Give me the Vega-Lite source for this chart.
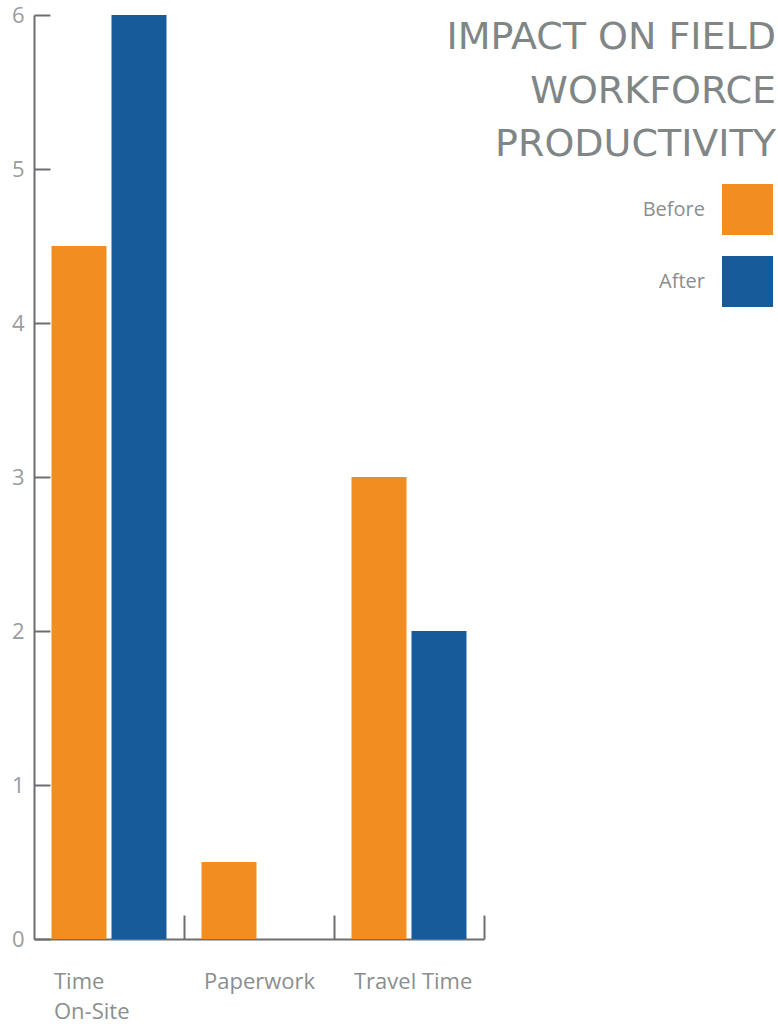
{
  "$schema": "https://vega.github.io/schema/vega-lite/v6.json",
  "width": 450,
  "height": 924,
  "autosize": {"type": "none"},
  "padding": {"left": 34, "top": 15, "right": 294, "bottom": 85},
  "background": "white",
  "title": {
    "text": ["IMPACT ON FIELD", "WORKFORCE", "PRODUCTIVITY"],
    "anchor": "end",
    "frame": "group",
    "dx": 292,
    "offset": -160,
    "fontSize": 38,
    "font": "DejaVu Sans",
    "fontWeight": "normal",
    "color": "#808686",
    "lineHeight": 53.5,
    "align": "right"
  },
  "data": {
    "values": [
      {"category": "Time On-Site", "period": "Before", "value": 4.5},
      {"category": "Time On-Site", "period": "After", "value": 6},
      {"category": "Paperwork", "period": "Before", "value": 0.5},
      {"category": "Paperwork", "period": "After", "value": 0},
      {"category": "Travel Time", "period": "Before", "value": 3},
      {"category": "Travel Time", "period": "After", "value": 2}
    ]
  },
  "mark": {"type": "bar"},
  "encoding": {
    "x": {
      "field": "category",
      "type": "nominal",
      "sort": ["Time On-Site", "Paperwork", "Travel Time"],
      "scale": {"paddingInner": 0, "paddingOuter": 0},
      "axis": {
        "title": null,
        "bandPosition": 1,
        "tickSize": -24,
        "tickWidth": 2,
        "tickColor": "#6d6e71",
        "domainColor": "#6d6e71",
        "domainWidth": 2,
        "labelAngle": 0,
        "labelAlign": "left",
        "labelOffset": -55,
        "labelPadding": 56,
        "labelBaseline": "top",
        "labelFontSize": 22,
        "labelFont": "Open Sans",
        "labelColor": "#8a8e8e",
        "labelOverlap": false,
        "labelExpr": "datum.label == 'Time On-Site' ? ['Time', 'On-Site'] : datum.label",
        "labelLineHeight": 30
      }
    },
    "xOffset": {
      "field": "period",
      "sort": ["Before", "After"],
      "scale": {"paddingInner": 0.0833, "paddingOuter": 0.2917}
    },
    "y": {
      "field": "value",
      "type": "quantitative",
      "scale": {"domain": [0, 6], "nice": false},
      "axis": {
        "title": null,
        "values": [0, 1, 2, 3, 4, 5, 6],
        "format": "d",
        "grid": false,
        "tickSize": -16,
        "tickWidth": 2,
        "tickColor": "#6d6e71",
        "domainColor": "#6d6e71",
        "domainWidth": 2,
        "labelPadding": 26,
        "labelFontSize": 22,
        "labelFont": "Open Sans",
        "labelColor": "#9a9c9f"
      }
    },
    "color": {
      "field": "period",
      "type": "nominal",
      "sort": ["Before", "After"],
      "scale": {"domain": ["Before", "After"], "range": ["#F18D21", "#175B9B"]},
      "legend": {
        "orient": "none",
        "legendX": 688,
        "legendY": 169,
        "title": null,
        "padding": 0,
        "symbolType": "square",
        "symbolSize": 2601,
        "symbolStrokeWidth": 0,
        "labelAlign": "right",
        "labelOffset": -68,
        "labelFontSize": 20,
        "labelFont": "Open Sans",
        "labelColor": "#8a8e8e",
        "labelBaseline": "middle",
        "rowPadding": 21
      }
    }
  },
  "config": {"view": {"stroke": null}}
}
